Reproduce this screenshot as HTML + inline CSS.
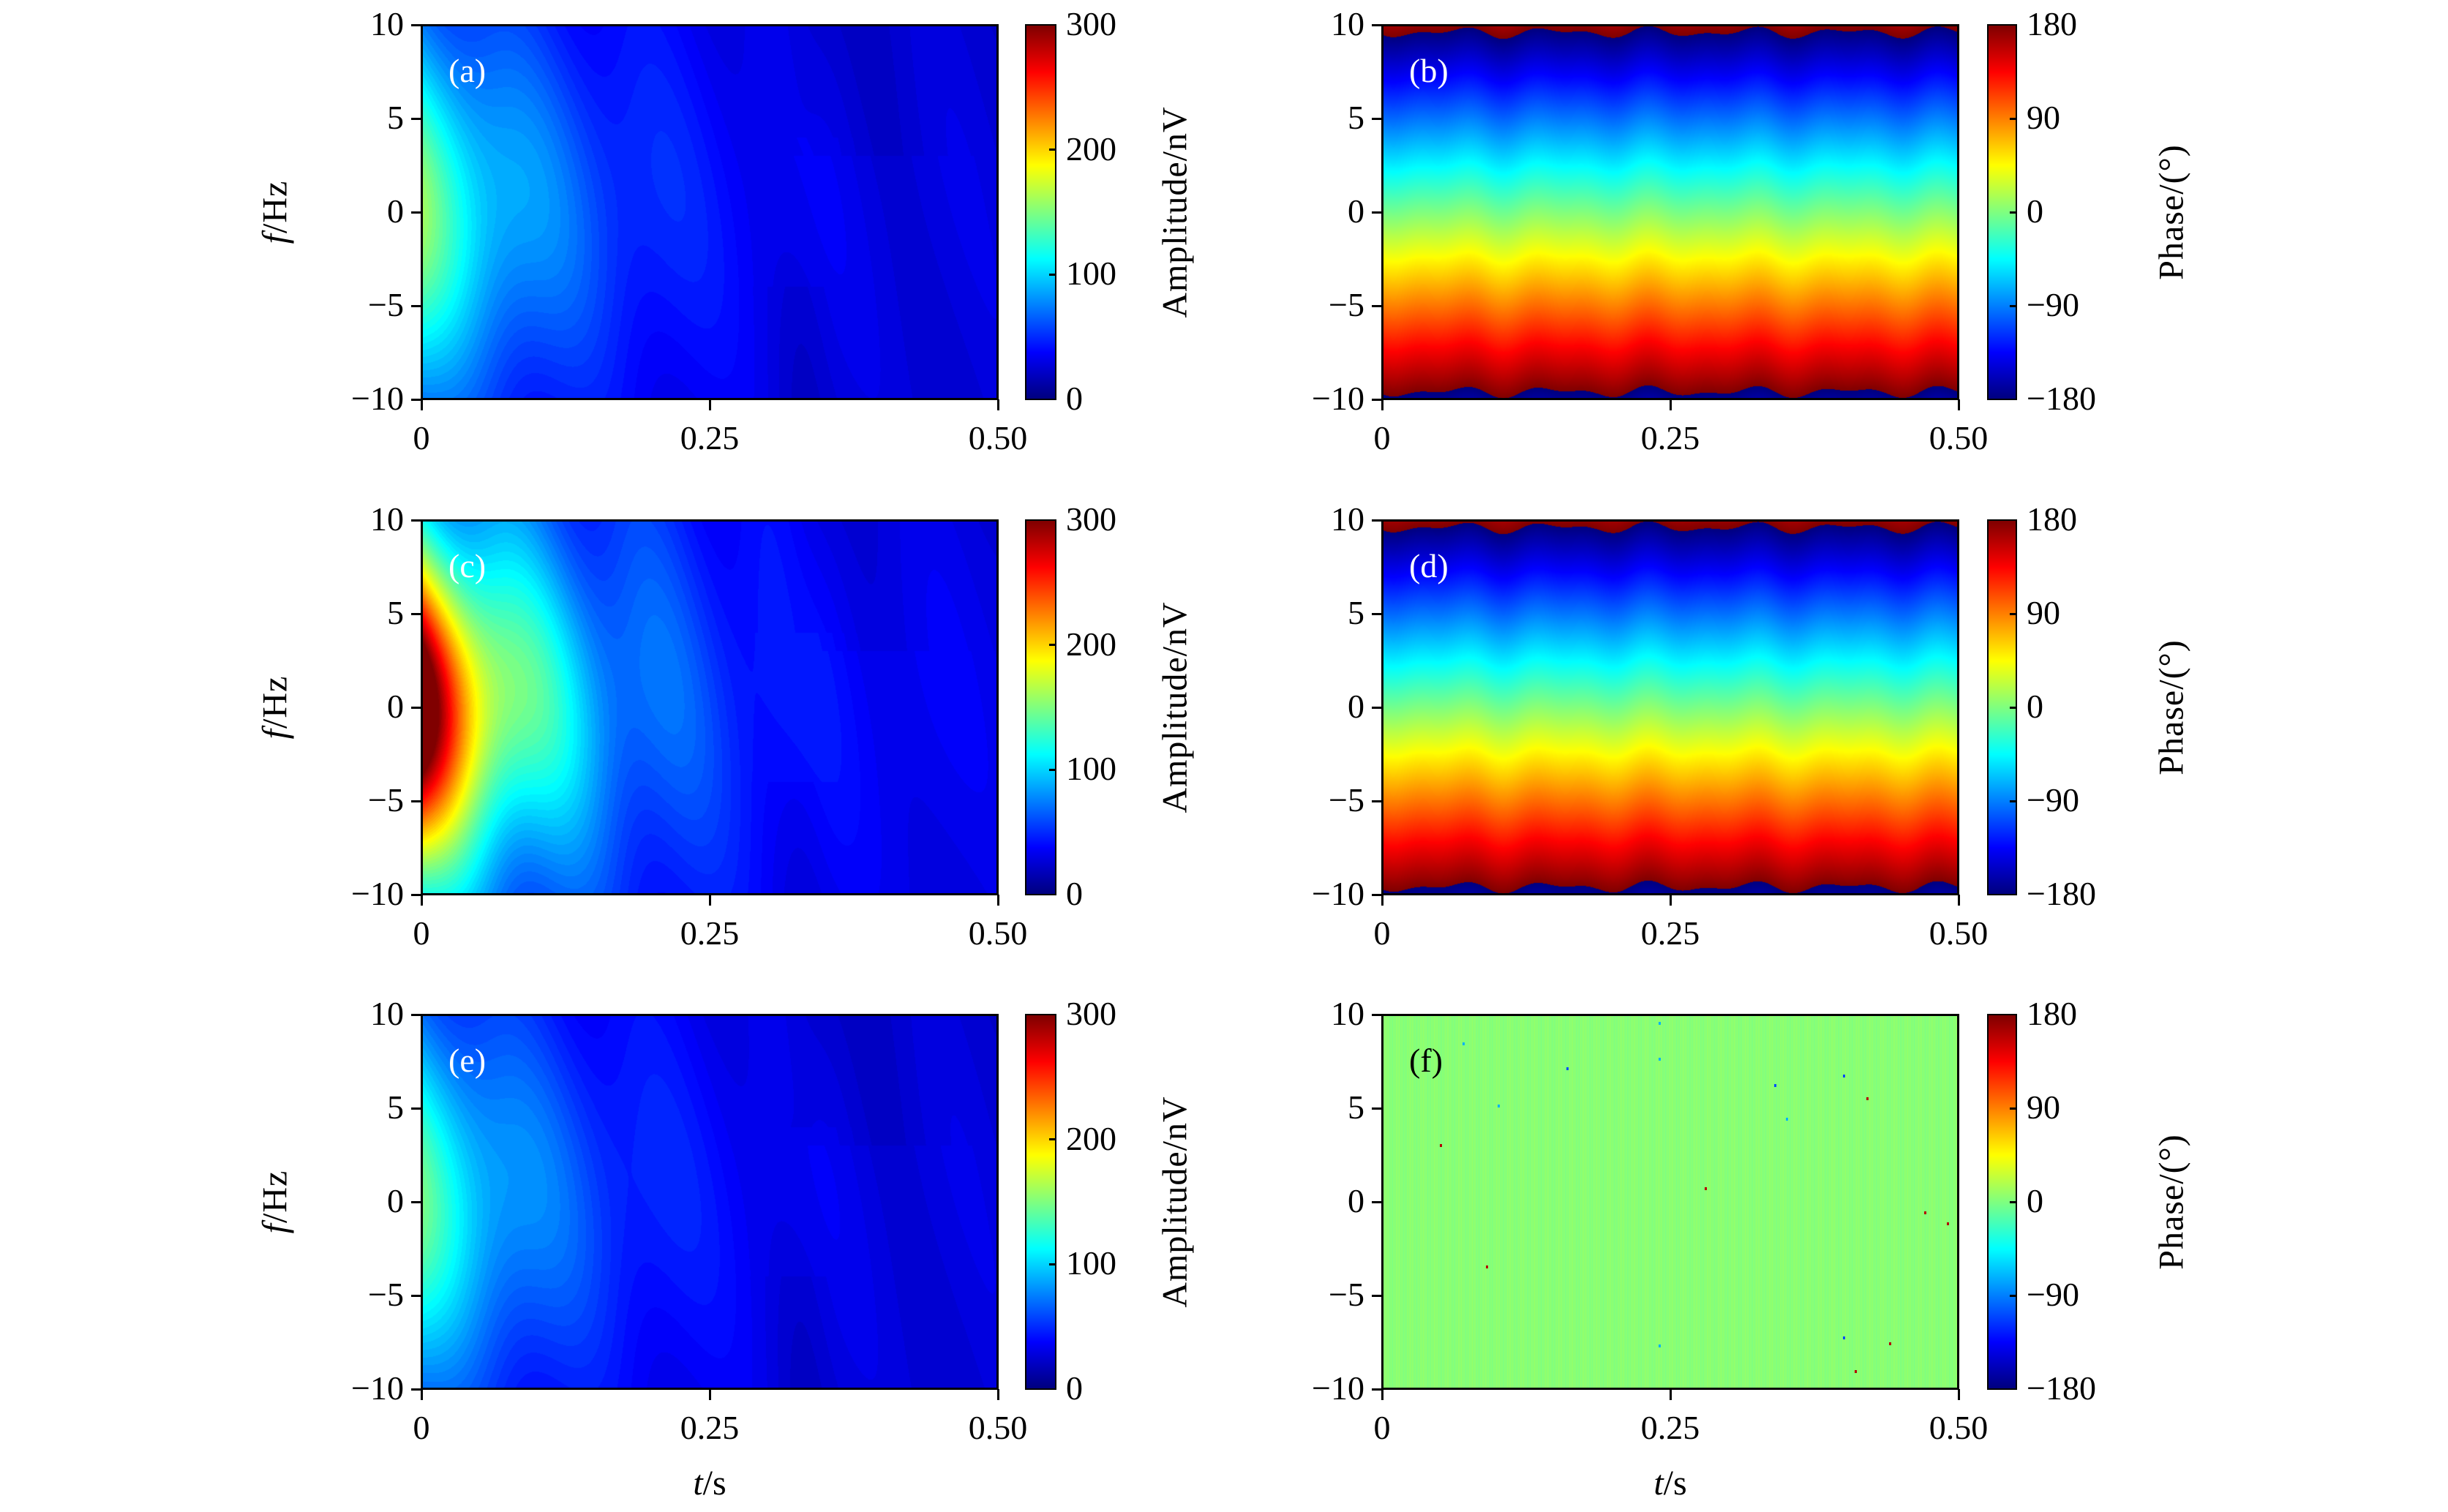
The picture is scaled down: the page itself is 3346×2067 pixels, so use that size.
<!DOCTYPE html>
<html><head><meta charset="utf-8">
<style>
body{margin:0;background:#fff;width:3346px;height:2067px;position:relative;overflow:hidden;font-family:"Liberation Serif",serif;color:#000}
canvas{position:absolute}
.ax{position:absolute;border:3px solid #000;box-sizing:border-box}
.t{position:absolute;font-size:46px;line-height:1;white-space:nowrap}
.tk{position:absolute;background:#000}
.rot{position:absolute;transform:translate(-50%,-50%) rotate(-90deg);font-size:48px;white-space:nowrap;letter-spacing:1px}
.pl{position:absolute;font-size:46px}
</style></head><body>
<script>
function jet(v){v=Math.max(0,Math.min(1,v));
 var c=function(x){return Math.max(0,Math.min(1,x));};
 return [c(1.5-Math.abs(4*v-3))*255,c(1.5-Math.abs(4*v-2))*255,c(1.5-Math.abs(4*v-1))*255];}
var W=788,H=512;
var cols=[576,1889];
var rows=[34,711,1387];
var root=document.body;
function el(tag,cls,st,txt){var e=document.createElement(tag);if(cls)e.className=cls;Object.assign(e.style,st);if(txt!==undefined)e.innerHTML=txt;root.appendChild(e);return e;}
function field(fn,x,y){var c=el('canvas','',{left:x+'px',top:y+'px'});c.width=W;c.height=H;
 var ctx=c.getContext('2d');var im=ctx.createImageData(W,H);
 for(var j=0;j<H;j++){var f=10-20*j/(H-1);
  for(var i=0;i<W;i++){var t=0.5*i/(W-1);var v=fn(t,f,i,j);var col=jet(v);var k=(j*W+i)*4;
   im.data[k]=col[0];im.data[k+1]=col[1];im.data[k+2]=col[2];im.data[k+3]=255;}}
 ctx.putImageData(im,0,0);}
function amp(scale,tau,fw,tail){return function(t,f){
 var a=22+10*Math.exp(-t/0.3)+scale*Math.exp(-t/tau)*Math.exp(-(f/fw)*(f/fw))
 +tail*Math.exp(-t/0.22)*(0.8+0.2*Math.cos(2*Math.PI*t/0.11+f*0.15))*Math.exp(-(f/16)*(f/16))
 +4*Math.cos(2*Math.PI*t/0.12+0.2*f)-6*Math.exp(-Math.pow((t-0.33)/0.025,2))*(Math.abs(f)>4?1:0.4)
 -5*Math.exp(-Math.pow((t-0.4)/0.05,2))*(f>3?1:0.3);
 a=Math.round(a/4)*4;return a/300;};}
function phase(t,f){var v=0.5-0.052*(f+0.2*Math.sin(2*Math.PI*t/0.085)+0.15*Math.sin(2*Math.PI*t/0.05+1));
 v=((v%1)+1)%1;return v;}
function flat(t,f,i){return 0.51+0.008*Math.sin(i*1.7)+0.005*Math.sin(i*0.37);}
var fns=[[amp(95,0.1,9,30),phase],[amp(230,0.07,7.5,90),phase],[amp(85,0.1,9,28),flat]];
var labels=[['(a)','(b)'],['(c)','(d)'],['(e)','(f)']];
for(var r=0;r<3;r++)for(var c=0;c<2;c++){
 var x=cols[c],y=rows[r];
 try{field(fns[r][c],x,y);}catch(e){}
 el('div','ax',{left:(x-1)+'px',top:(y-1)+'px',width:(W+2)+'px',height:(H+2)+'px'});
 var yt=['10','5','0','−5','−10'];
 for(var k=0;k<5;k++){var yy=y+k*H/4;
  el('div','tk',{left:(x-14)+'px',top:(yy-1.5)+'px',width:'14px',height:'3px'});
  el('div','t',{right:(3346-(x-24))+'px',top:(yy-24)+'px'},yt[k]);}
 var xt=['0','0.25','0.50'];
 for(var k2=0;k2<3;k2++){var xx=x+k2*W/2;
  el('div','tk',{left:(xx-1.5)+'px',top:(y+H)+'px',width:'3px',height:'15px'});
  el('div','t',{left:(xx-100)+'px',width:'200px',textAlign:'center',top:(y+H+30)+'px'},xt[k2]);}
 var cbx=c==0?1402:2717,cbw=c==0?41:39;
 var cb=el('canvas','',{left:cbx+'px',top:y+'px'});cb.width=cbw;cb.height=H;
 var cx=cb.getContext('2d');for(var j=0;j<H;j++){var col=jet(1-j/(H-1));cx.fillStyle='rgb('+col.map(Math.round).join(',')+')';cx.fillRect(0,j,cbw,1);}
 el('div','ax',{left:(cbx-1)+'px',top:(y-1)+'px',width:(cbw+2)+'px',height:(H+2)+'px',borderWidth:'2px'});
 var ct=c==0?['300','200','100','0']:['180','90','0','−90','−180'];
 var n=ct.length;
 for(var k3=0;k3<n;k3++){var y3=y+k3*H/(n-1);
  if(k3>0&&k3<n-1)el('div','tk',{left:(cbx+cbw-9)+'px',top:(y3-1.5)+'px',width:'9px',height:'3px'});
  el('div','t',{left:(cbx+cbw+14)+'px',top:(y3-24)+'px'},ct[k3]);}
 el('div','pl',{left:(x+37)+'px',top:(y+36)+'px',color:(r==2&&c==1)?'#000':'#fff'},labels[r][c]);
 if(c==0){el('div','rot',{left:'376px',top:(y+H/2)+'px'},'<i>f</i>/Hz');
  el('div','rot',{left:'1606px',top:(y+H/2)+'px'},'Amplitude/nV');}
 else el('div','rot',{left:'2968px',top:(y+H/2)+'px'},'Phase/(°)');
}
el('div','t',{left:'870px',width:'200px',textAlign:'center',top:'2004px',fontSize:'48px'},'<i>t</i>/s');
el('div','t',{left:'2183px',width:'200px',textAlign:'center',top:'2004px',fontSize:'48px'},'<i>t</i>/s');
var dots=[[0.07,8.5,0.3],[0.16,7.2,0.2],[0.24,9.6,0.3],[0.24,7.7,0.3],[0.05,3.1,0.95],[0.1,5.2,0.3],[0.34,6.3,0.2],[0.35,4.5,0.3],[0.4,6.8,0.2],[0.42,5.6,0.95],[0.28,0.8,0.95],[0.47,-0.5,0.95],[0.49,-1.1,0.95],[0.09,-3.4,0.95],[0.24,-7.6,0.3],[0.4,-7.2,0.2],[0.44,-7.5,0.95],[0.41,-9,0.95]];
for(var q=0;q<dots.length;q++){var d=dots[q];var cl=jet(d[2]).map(Math.round);
 el('div','',{position:'absolute',left:(1889+d[0]/0.5*W)+'px',top:(1387+(10-d[1])/20*H)+'px',width:'3px',height:'4px',background:'rgb('+cl.join(',')+')'});}
</script>
</body></html>
